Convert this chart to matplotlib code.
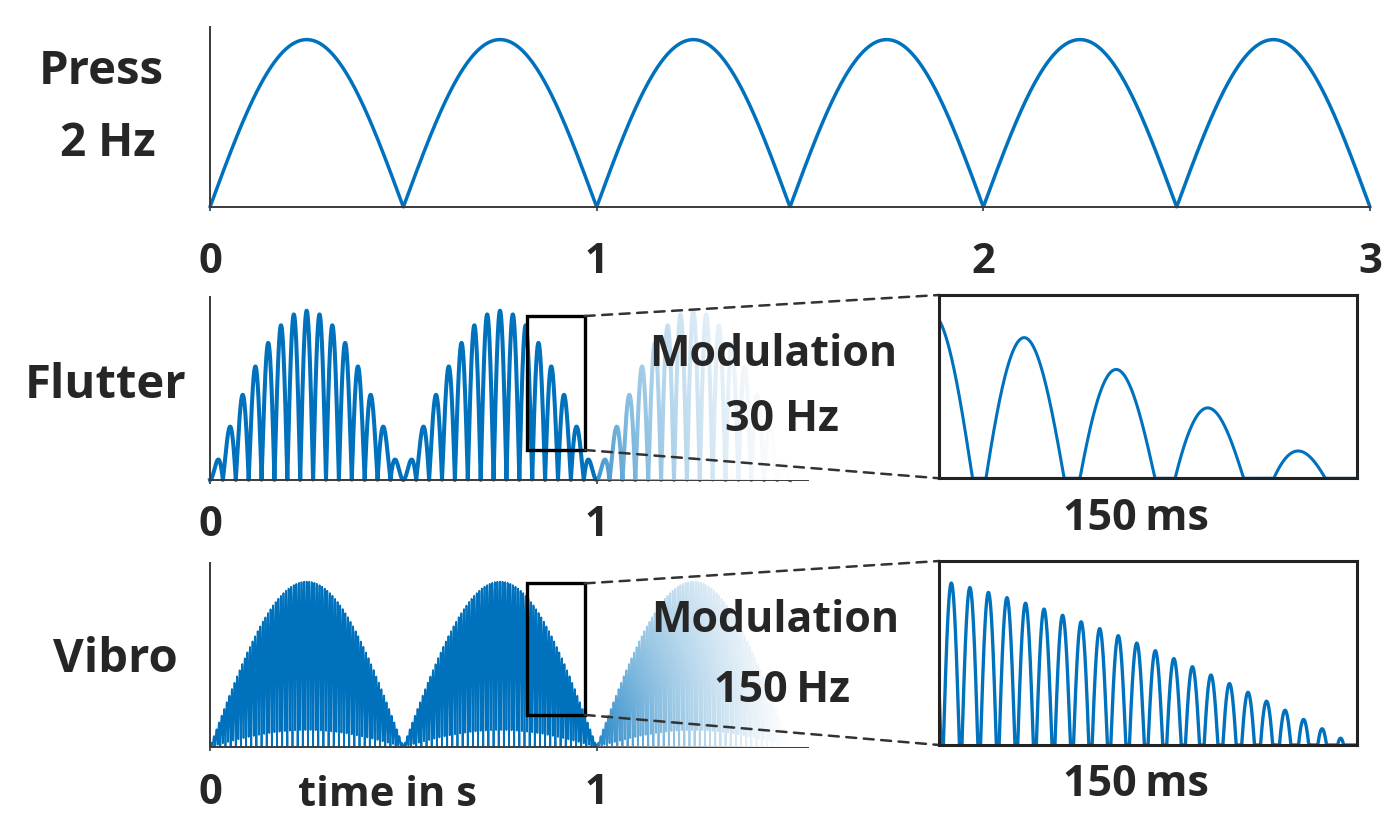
import numpy as np
import matplotlib
matplotlib.use("Agg")
import matplotlib.pyplot as plt
from matplotlib.patches import Rectangle, ConnectionPatch

# ---------------- data ----------------
press_label = ["Press", "2 Hz"]
row_labels = ["Flutter", "Vibro"]
press_ticks = [0, 1, 2, 3]
row_ticks = [0, 1]
press_period_s = 1.0          # |sin(2*pi*t/1 s)| -> 2 humps per second ("2 Hz")
press_peak = 0.93
flutter_mod_hz = 30           # hump rate of the modulation
vibro_mod_hz = 150
flutter_peak = 0.925
vibro_peak = 0.90
drawn_until_s = 1.5           # third cycle shown fading out
zoom_window_s = [0.819, 0.969]   # 150 ms window shown in the insets
flutter_zoom_box_y = [0.164, 0.896]
vibro_zoom_box_y = [0.173, 0.889]
flutter_inset_gain = 1.25
flutter_inset_cut = 0.245
vibro_inset_gain = 1.264
vibro_inset_cut = 0.252
vibro_sample_rate = 2325      # sampling of the plotted vibro trace
inset_label = "150\u2009ms"
mod_labels = [["Modulation", "30 Hz"], ["Modulation", "150\u2009Hz"]]
time_label = "time in s"

# ---------------- style ----------------
W, H = 1383, 816
BLUE = "#0072BD"
TXT = "#262626"
SPINE = "#3a3a3a"
plt.rcParams["font.family"] = ["Open Sans", "DejaVu Sans"]
plt.rcParams["font.weight"] = "bold"

fig = plt.figure(figsize=(W / 100, H / 100), dpi=100)
fig.patch.set_facecolor("white")


def rect(x0, y0, x1, y1):
    return [x0 / W, 1 - y1 / H, (x1 - x0) / W, (y1 - y0) / H]


def ftext(x, y, s, size, **kw):
    fig.text(x / W, 1 - y / H, s, fontsize=size, color=TXT, fontweight="bold",
             ha="center", va="center", **kw)


def style_main(ax, ticks, pad, bound=None):
    ax.set_facecolor("none")
    for s in ["top", "right"]:
        ax.spines[s].set_visible(False)
    for s in ["left", "bottom"]:
        ax.spines[s].set_color(SPINE)
        ax.spines[s].set_linewidth(1.4)
    if bound is not None:
        ax.spines["bottom"].set_bounds(0, bound)
    ax.set_xlim(0, 3)
    ax.set_ylim(0, 1)
    ax.set_yticks([])
    ax.set_xticks(ticks)
    ax.set_xticklabels([str(t) for t in ticks])
    ax.tick_params(axis="x", length=3, width=1.2, color=SPINE, pad=pad,
                   labelsize=30, labelcolor=TXT)
    for lab in ax.get_xticklabels():
        lab.set_fontweight("bold")


def fade_overlay(ax, base, power, vert):
    xs = np.linspace(1.0, 1.6, 300)
    ys = np.linspace(-0.03, 1.0, 120)
    X, Y = np.meshgrid(xs, ys)
    u = np.clip((X - 1.0) / (drawn_until_s - 1.0), 0, 1)
    vis = base * (1 - u) ** power * (1 - vert * np.clip(Y, 0, 1))
    img = np.ones((len(ys), len(xs), 4))
    img[..., 3] = 1 - vis
    ax.imshow(img, extent=[xs[0], xs[-1], ys[0], ys[-1]], origin="lower",
              aspect="auto", zorder=3, interpolation="bilinear")
    ax.plot([1.0, drawn_until_s + 0.05], [0, 0], color=SPINE, lw=1.4,
            zorder=2.5, clip_on=False, solid_capstyle="butt")
    ax.set_xlim(0, 3)
    ax.set_ylim(0, 1)


# ---------------- top: press ----------------
ax_p = fig.add_axes(rect(210, 27, 1370, 207))
style_main(ax_p, press_ticks, pad=22)
tp = np.linspace(0, 3, 3000)
ax_p.plot(tp, press_peak * np.abs(np.sin(2 * np.pi * tp / press_period_s)),
          color=BLUE, lw=2.5, clip_on=False, solid_capstyle="round")

# ---------------- flutter ----------------
ax_f = fig.add_axes(rect(210, 297, 1370, 480))
style_main(ax_f, row_ticks, pad=15, bound=1)
tf = np.linspace(0, drawn_until_s, 20000)
env_f = np.abs(np.sin(2 * np.pi * tf / press_period_s))
sig_f = flutter_peak * env_f * np.abs(np.sin(np.pi * flutter_mod_hz * tf))
ax_f.plot(tf, sig_f, color=BLUE, lw=2.9, clip_on=False, zorder=2)
fade_overlay(ax_f, 0.75, 1.6, 0.45)

# ---------------- vibro ----------------
ax_v = fig.add_axes(rect(210, 563, 1370, 746.7))
style_main(ax_v, row_ticks, pad=16, bound=1)
tv = np.arange(0, drawn_until_s, 1.0 / vibro_sample_rate)
env_v = np.abs(np.sin(2 * np.pi * tv / press_period_s))
sig_v = vibro_peak * env_v * np.abs(np.sin(np.pi * vibro_mod_hz * tv))
ax_v.plot(tv, sig_v, color=BLUE, lw=1.3, clip_on=False, zorder=2)
fade_overlay(ax_v, 0.85, 1.3, 0.55)

# ---------------- insets ----------------
ins_f = fig.add_axes(rect(939.3, 295, 1356.7, 478.3))
ins_v = fig.add_axes(rect(939.3, 561, 1356.7, 745))
t0, t1 = zoom_window_s
ti = np.linspace(t0, t1, 4000)
env_i = np.abs(np.sin(2 * np.pi * ti / press_period_s))
in_f = np.maximum(0, flutter_inset_gain * env_i * np.abs(np.sin(np.pi * flutter_mod_hz * ti)) - flutter_inset_cut)
in_v = np.maximum(0, vibro_inset_gain * env_i * np.abs(np.sin(np.pi * vibro_mod_hz * ti)) - vibro_inset_cut)
ins_f.plot(ti, in_f, color=BLUE, lw=2.2)
ins_v.plot(ti, in_v, color=BLUE, lw=2.4)
for ax in (ins_f, ins_v):
    ax.set_xlim(t0, t1)
    ax.set_ylim(0, 1)
    ax.set_xticks([])
    ax.set_yticks([])
    for s in ax.spines.values():
        s.set_color("#222222")
        s.set_linewidth(2.2)
    ax.set_zorder(6)

# zoom boxes and connectors
for ax, ins, (yb, yt) in ((ax_f, ins_f, flutter_zoom_box_y), (ax_v, ins_v, vibro_zoom_box_y)):
    ax.add_patch(Rectangle((t0, yb), t1 - t0, yt - yb, fill=False, ec="black",
                           lw=2.4, zorder=5))
    for ya, yi in ((yt, 1), (yb, 0)):
        cp = ConnectionPatch(xyA=(t1, ya), coordsA=ax.transData,
                             xyB=(0, yi), coordsB=ins.transAxes,
                             color="#333333", lw=1.8, ls=(0, (4, 3)), zorder=5)
        fig.add_artist(cp)

# ---------------- texts ----------------
ftext(101, 72, press_label[0], 34)
ftext(108, 143, press_label[1], 33)
ftext(106, 386, row_labels[0], 34)
ftext(115, 660, row_labels[1], 34)
ftext(773, 354, mod_labels[0][0], 31)
ftext(782, 420, mod_labels[0][1], 31)
ftext(775, 621, mod_labels[1][0], 31)
ftext(782, 690, mod_labels[1][1], 31)
ftext(1136, 518, inset_label, 31)
ftext(1136, 785, inset_label, 31)
ftext(388, 795, time_label, 30)

fig.savefig("out.png", dpi=100, facecolor="white")
